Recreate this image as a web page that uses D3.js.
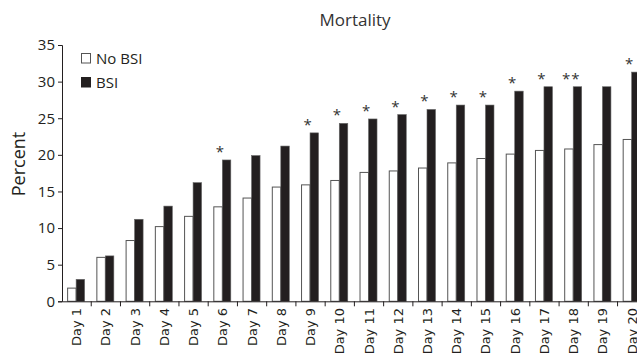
<!DOCTYPE html>
<html><head><meta charset="utf-8">
<script src="https://cdn.jsdelivr.net/npm/d3@7/dist/d3.min.js"></script>
<style>body{margin:0;background:#fff}svg{display:block}text{font-family:"Open Sans","Noto Sans",sans-serif;fill:#231f20}</style>
</head><body><svg id="c" width="637" height="356"></svg>
<script>
const days = ["Day 1","Day 2","Day 3","Day 4","Day 5","Day 6","Day 7","Day 8","Day 9","Day 10","Day 11","Day 12","Day 13","Day 14","Day 15","Day 16","Day 17","Day 18","Day 19","Day 20"];
const noBSI = [1.8,6.0,8.3,10.2,11.6,12.9,14.1,15.6,15.9,16.5,17.6,17.8,18.2,18.9,19.5,20.1,20.6,20.8,21.4,22.1];
const bsi   = [3.0,6.2,11.2,13.0,16.2,19.3,19.9,21.2,23.0,24.3,24.9,25.5,26.2,26.8,26.8,28.7,29.3,29.3,29.3,31.3];
const stars = ["","","","","","*","","","*","*","*","*","*","*","*","*","*","**","","*"];
const yTicks = [0,5,10,15,20,25,30,35];
const seriesNames = ["No BSI","BSI"];

const svg = d3.select("#c");
const x = d3.scaleBand().domain(days).range([62, 62 + 20 * 29.24]).padding(0);
const y = d3.scaleLinear().domain([0, 35]).range([301.3, 45]);
const bw = 8.5, off = 0.5;

// title
svg.append("text").attr("x", 355).attr("y", 26).attr("text-anchor", "middle")
  .style("font-size", "17px").style("fill", "#333").text("Mortality");

// y label
svg.append("text").attr("transform", "translate(25,164) rotate(-90)").attr("text-anchor", "middle")
  .style("font-size", "18px").text("Percent");

// bars
const g = svg.append("g");
g.selectAll("rect.nb").data(days).join("rect").attr("class", "nb")
  .attr("x", d => x(d) + x.bandwidth() / 2 - off - bw).attr("width", bw)
  .attr("y", (d, i) => y(noBSI[i])).attr("height", (d, i) => y(0) - y(noBSI[i]))
  .attr("fill", "#fff").attr("stroke", "#555").attr("stroke-width", 1);
g.selectAll("rect.b").data(days).join("rect").attr("class", "b")
  .attr("x", d => x(d) + x.bandwidth() / 2 - off).attr("width", bw)
  .attr("y", (d, i) => y(bsi[i])).attr("height", (d, i) => y(0) - y(bsi[i]))
  .attr("fill", "#231f20").attr("stroke", "#666").attr("stroke-width", 0.6);

// stars
g.selectAll("text.st").data(days).join("text").attr("class", "st")
  .attr("x", d => x(d) + x.bandwidth() / 2 - 2.5)
  .attr("y", (d, i) => y(bsi[i]) - 3)
  .attr("text-anchor", "middle").style("font-size", "15px").style("fill", "#333")
  .style("letter-spacing", "1px")
  .text((d, i) => stars[i]);

// y axis
const ya = svg.append("g").attr("transform", "translate(62,0)")
  .call(d3.axisLeft(y).tickValues(yTicks).tickSize(4).tickPadding(3));
ya.select(".domain").attr("stroke", "#231f20");
ya.selectAll(".tick line").attr("stroke", "#231f20");
ya.selectAll("text").style("font-size", "15px").attr("fill", "#231f20").style("font-family", "'Open Sans','Noto Sans',sans-serif");

// x axis
const xa = svg.append("g").attr("transform", `translate(0,${y(0)})`)
  .call(d3.axisBottom(x).tickSize(0).tickFormat(""));
xa.select(".domain").attr("stroke", "#231f20");
xa.selectAll(".tick").remove();
svg.append("g").selectAll("line").data(days).join("line")
  .attr("x1", d => x(d) + x.bandwidth()).attr("x2", d => x(d) + x.bandwidth())
  .attr("y1", y(0)).attr("y2", y(0) + 5).attr("stroke", "#231f20");
svg.append("g").selectAll("text").data(days).join("text")
  .attr("transform", d => `translate(${x(d) + x.bandwidth() / 2 + 4.5},308) rotate(-90)`)
  .attr("text-anchor", "end").style("font-size", "13px")
  .style("font-family", "'DejaVu Sans',sans-serif")
  .text(d => d);

// legend
const lg = svg.append("g");
seriesNames.forEach((n, i) => {
  lg.append("rect").attr("x", 81.5).attr("y", 53.5 + i * 24).attr("width", 9).attr("height", 9.5)
    .attr("fill", i ? "#231f20" : "#fff").attr("stroke", i ? "#231f20" : "#555");
  lg.append("text").attr("x", 96).attr("y", 64 + i * 24).style("font-size", "15px").text(n);
});
</script></body></html>
